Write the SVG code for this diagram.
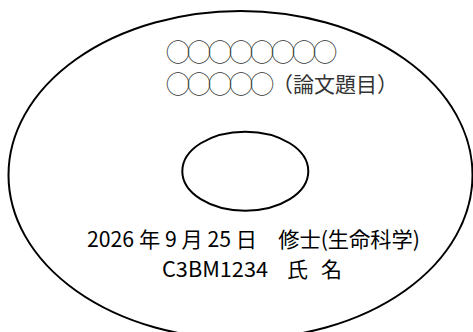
<svg xmlns="http://www.w3.org/2000/svg" width="473" height="332" viewBox="0 0 473 332">
<style>
.disc{fill:none;stroke:#000;stroke-width:2}
.t{font-family:"Noto Sans CJK JP","Noto Sans",sans-serif;fill:#000;white-space:pre}
.g{fill:#333}
.c{font-size:24px;letter-spacing:-3px}
</style>
<rect width="473" height="332" fill="#fff"/>
<g id="outer-disc"><ellipse class="disc" cx="240.5" cy="175" rx="232" ry="164"/></g>
<g id="center-hole"><ellipse class="disc" cx="245.3" cy="171.2" rx="63" ry="39.5"/></g>
<g id="title">
<text class="t g c" x="166" y="61">◯◯◯◯◯◯◯◯</text>
<text class="t g" x="166" y="93" font-size="21" xml:space="preserve"><tspan class="c">◯◯◯◯◯</tspan><tspan x="272" y="92">（論文題目）</tspan></text>
</g>
<g id="info">
<text class="t" x="87" y="247" font-size="21" textLength="333" lengthAdjust="spacingAndGlyphs" xml:space="preserve">2026 年 9 月 25 日　修士(生命科学)</text>
<text class="t" x="162" y="277" font-size="21" xml:space="preserve"><tspan textLength="106" lengthAdjust="spacingAndGlyphs">C3BM1234</tspan><tspan x="287">氏</tspan><tspan x="321">名</tspan></text>
</g>
</svg>
